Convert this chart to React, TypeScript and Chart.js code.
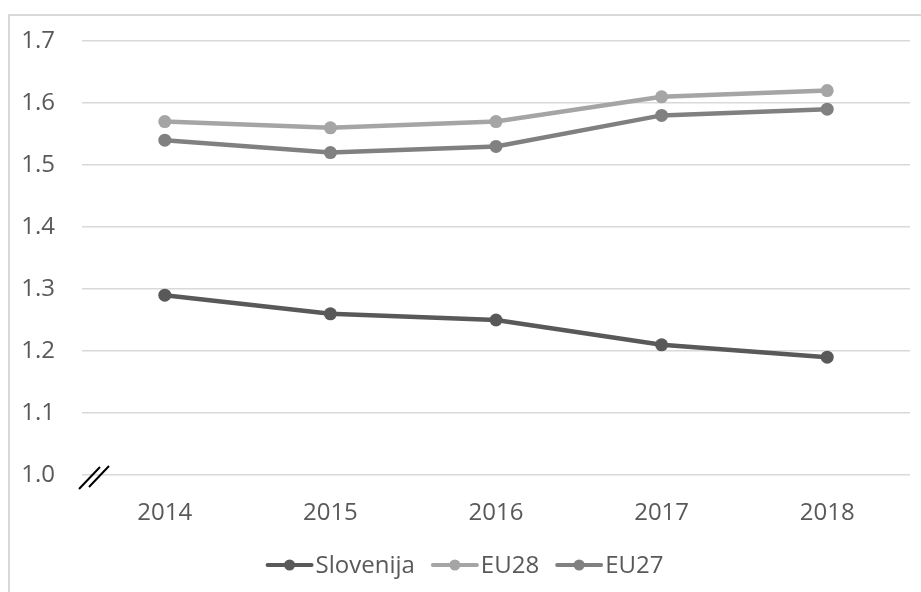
import React, { useEffect, useRef } from "react";
import { Chart, registerables } from "chart.js";

Chart.register(...registerables);

const years = ["2014", "2015", "2016", "2017", "2018"];
const slovenija = [1.29, 1.26, 1.25, 1.21, 1.19];
const eu28 = [1.57, 1.56, 1.57, 1.61, 1.62];
const eu27 = [1.54, 1.52, 1.53, 1.58, 1.59];
const seriesNames = ["Slovenija", "EU28", "EU27"];
const seriesColors = ["#595959", "#A5A5A5", "#808080"];
const yMin = 1.0;
const yMax = 1.7;

const FONT = "'Open Sans', 'Noto Sans', sans-serif";
const TEXT = "#595959";

const extras = {
  id: "extras",
  afterDraw(chart: any) {
    const ctx = chart.ctx;
    const area = chart.chartArea;
    const ys = chart.scales.y;
    // axis break marks
    const y0 = ys.getPixelForValue(yMin);
    ctx.save();
    ctx.strokeStyle = "#000000";
    ctx.lineWidth = 2;
    ctx.beginPath();
    ctx.moveTo(area.left - 3, y0 + 14);
    ctx.lineTo(area.left + 18, y0 - 8);
    ctx.moveTo(area.left + 7, y0 + 12);
    ctx.lineTo(area.left + 27, y0 - 9);
    ctx.stroke();
    ctx.restore();

    // legend
    ctx.save();
    ctx.font = `24px ${FONT}`;
    ctx.textBaseline = "middle";
    const lineLen = 44;
    const gapAfterLine = 4;
    const gapBetween = 18;
    const widths = seriesNames.map((n) => ctx.measureText(n).width);
    let total = 0;
    widths.forEach((w, i) => {
      total += lineLen + gapAfterLine + w + (i < widths.length - 1 ? gapBetween : 0);
    });
    let x = chart.width / 2 - total / 2;
    const ly = chart.height - 27;
    seriesNames.forEach((n, i) => {
      ctx.strokeStyle = seriesColors[i];
      ctx.fillStyle = seriesColors[i];
      ctx.lineWidth = 4;
      ctx.lineCap = "round";
      ctx.beginPath();
      ctx.moveTo(x, ly);
      ctx.lineTo(x + lineLen, ly);
      ctx.stroke();
      ctx.beginPath();
      ctx.arc(x + lineLen / 2, ly, 5.5, 0, Math.PI * 2);
      ctx.fill();
      x += lineLen + gapAfterLine;
      ctx.fillStyle = TEXT;
      ctx.textAlign = "left";
      ctx.fillText(n, x, ly + 1);
      x += widths[i] + gapBetween;
    });
    ctx.restore();
  },
};

export default function App() {
  const ref = useRef<HTMLCanvasElement>(null);
  useEffect(() => {
    if (!ref.current) return;
    const mk = (label: string, data: number[], color: string) => ({
      label,
      data,
      borderColor: color,
      backgroundColor: color,
      borderWidth: 4.5,
      pointRadius: 6.5,
      pointHoverRadius: 6.5,
      pointBorderWidth: 0,
      tension: 0,
    });
    const chart = new Chart(ref.current, {
      type: "line",
      data: {
        labels: years,
        datasets: [
          mk(seriesNames[0], slovenija, seriesColors[0]),
          mk(seriesNames[1], eu28, seriesColors[1]),
          mk(seriesNames[2], eu27, seriesColors[2]),
        ],
      },
      options: {
        animation: false,
        responsive: false,
        maintainAspectRatio: false,
        layout: { padding: { top: 25, right: 11, left: 0, bottom: 57 } },
        plugins: { legend: { display: false }, tooltip: { enabled: false } },
        scales: {
          x: {
            offset: true,
            grid: { display: false, drawTicks: false },
            border: { display: false },
            ticks: { color: TEXT, font: { family: FONT, size: 24 }, padding: 24 },
            afterFit: (s: any) => {
              s.height = 60;
              s.paddingLeft = 0;
              s.paddingRight = 0;
            },
          },
          y: {
            min: yMin,
            max: yMax,
            ticks: {
              stepSize: 0.1,
              color: TEXT,
              font: { family: FONT, size: 24 },
              padding: 27,
              callback: (v: any) => Number(v).toFixed(1),
            },
            grid: { color: "#d9d9d9", lineWidth: 1.5, drawTicks: false },
            border: { display: false },
            afterFit: (s: any) => {
              s.width = 72;
              s.paddingTop = 0;
              s.paddingBottom = 0;
            },
          },
        },
      },
      plugins: [extras],
    });
    return () => chart.destroy();
  }, []);
  return (
    <div style={{ position: "absolute", left: 0, top: 0, width: 921, height: 592, background: "#fff", overflow: "hidden" }}>
      <div
        style={{
          position: "absolute",
          left: 8,
          top: 14,
          width: 913,
          height: 578,
          borderLeft: "2px solid #d9d9d9",
          borderTop: "2px solid #d9d9d9",
        }}
      >
        <canvas ref={ref} width={911} height={576} style={{ display: "block" }} />
      </div>
    </div>
  );
}
